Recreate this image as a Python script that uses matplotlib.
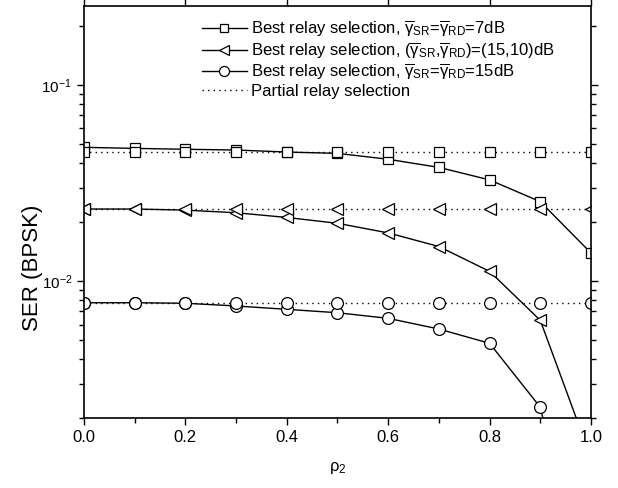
import matplotlib
matplotlib.use('Agg')
import matplotlib.pyplot as plt
from matplotlib.lines import Line2D
from matplotlib.ticker import LogLocator, NullFormatter, MultipleLocator

plt.rcParams['font.family'] = ['Liberation Sans', 'DejaVu Sans']
plt.rcParams['mathtext.fontset'] = 'custom'
plt.rcParams['mathtext.rm'] = 'Liberation Sans'
plt.rcParams['mathtext.it'] = 'Liberation Sans:italic'
plt.rcParams['mathtext.bf'] = 'Liberation Sans:bold'

# data
rho2 = [0.0, 0.1, 0.2, 0.3, 0.4, 0.5, 0.6, 0.7, 0.8, 0.9, 1.0]
best_7db = [0.0481, 0.0475, 0.0470, 0.0466, 0.0455, 0.0448, 0.0418, 0.0380, 0.0328, 0.0254, 0.0139]
best_15_10 = [0.0233, 0.0233, 0.0230, 0.0223, 0.0211, 0.0197, 0.0176, 0.0150, 0.0112, 0.0063, 0.00125]
best_15db = [0.00775, 0.00775, 0.00770, 0.00746, 0.00717, 0.00689, 0.00645, 0.00569, 0.00481, 0.00227, 0.00018]
partial_7db = [0.0453, 0.0453, 0.0453, 0.0453, 0.0453, 0.0453, 0.0453, 0.0453, 0.0453, 0.0453, 0.0453]
partial_15_10 = [0.0233, 0.0233, 0.0233, 0.0233, 0.0233, 0.0233, 0.0233, 0.0233, 0.0233, 0.0233, 0.0233]
partial_15db = [0.00773, 0.00773, 0.00773, 0.00773, 0.00773, 0.00773, 0.00773, 0.00773, 0.00773, 0.00773, 0.00773]

labels = [
    r'Best relay selection, $\overline{\mathrm{\gamma}}_{\mathrm{SR}}$=$\overline{\mathrm{\gamma}}_{\mathrm{RD}}$=7dB',
    r'Best relay selection, ($\overline{\mathrm{\gamma}}_{\mathrm{SR}}$,$\overline{\mathrm{\gamma}}_{\mathrm{RD}}$)=(15,10)dB',
    r'Best relay selection, $\overline{\mathrm{\gamma}}_{\mathrm{SR}}$=$\overline{\mathrm{\gamma}}_{\mathrm{RD}}$=15dB',
    'Partial relay selection',
]

fig = plt.figure(figsize=(6.18, 4.88), dpi=100)
ax = fig.add_axes([0.1359, 0.1434, 0.8204, 0.8443])

mk = dict(markerfacecolor='white', markeredgecolor='black', markeredgewidth=0.9, color='black')
solid = []
for y, m, ms in [(best_7db, 's', 7.5), (best_15_10, '<', 9), (best_15db, 'o', 8.5)]:
    ln, = ax.plot(rho2, y, '-', marker=m, markersize=ms, lw=1.0, **mk)
    solid.append(ln)
for y, m, ms in [(partial_7db, 's', 7.5), (partial_15_10, '<', 9), (partial_15db, 'o', 8.5)]:
    ax.plot(rho2, y, linestyle=(0, (1, 3)), marker=m, markersize=ms, lw=1.0, **mk)

dotted = Line2D([], [], color='black', linestyle=(0, (1, 3)), lw=1.0)
leg = ax.legend(solid + [dotted], labels, loc='upper left', bbox_to_anchor=(0.232, 0.968),
                frameon=False, fontsize=12, handlelength=2.7, handletextpad=0.25,
                labelspacing=0.08, borderpad=0, borderaxespad=0, markerscale=0.85)

ax.set_yscale('log')
ax.set_xlim(0, 1)
ax.set_ylim(2e-3, 0.253)
ax.xaxis.set_major_locator(MultipleLocator(0.2))
ax.xaxis.set_minor_locator(MultipleLocator(0.1))
ax.xaxis.set_major_formatter(plt.FuncFormatter(lambda v, p: '%.1f' % v))
ax.yaxis.set_major_locator(LogLocator(base=10))
ax.yaxis.set_minor_locator(LogLocator(base=10, subs=range(2, 10)))
ax.yaxis.set_minor_formatter(NullFormatter())

ax.tick_params(axis='both', which='major', direction='out', length=5, width=1, labelsize=12)
ax.tick_params(axis='y', which='major', labelsize=11)
ax.tick_params(axis='both', which='minor', direction='out', length=3.5, width=1)
ax.tick_params(axis='x', which='major', top=True)
ax.tick_params(axis='x', which='minor', top=False)
ax.tick_params(axis='y', which='both', right=True)
for s in ax.spines.values():
    s.set_linewidth(1.2)

ax.set_xlabel(r'$\mathrm{\rho}_2$', fontsize=12, labelpad=11)
ax.set_ylabel('SER (BPSK)', fontsize=16)
ax.yaxis.set_label_coords(-0.08, 0.364)

fig.savefig('out.png', dpi=100)
